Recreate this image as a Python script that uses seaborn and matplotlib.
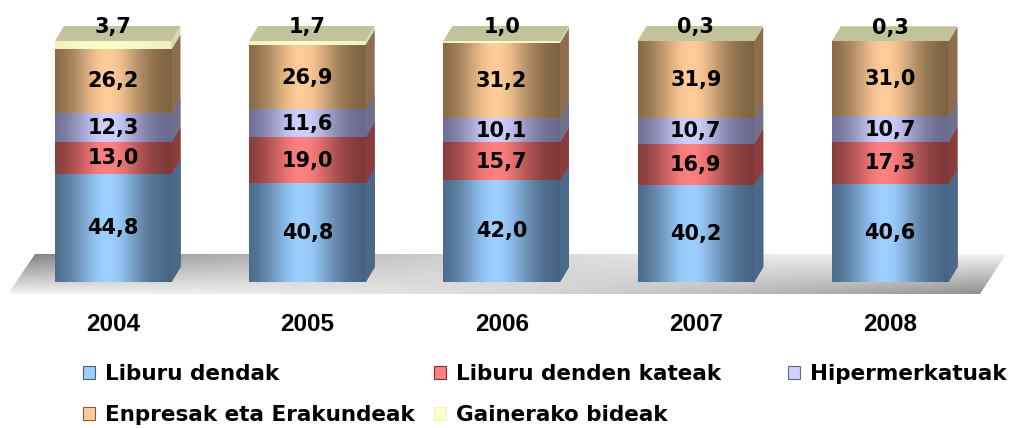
import numpy as np
import pandas as pd
import matplotlib
matplotlib.use("Agg")
import matplotlib.pyplot as plt
from matplotlib.patches import Polygon, Patch
from matplotlib.colors import to_rgb
import seaborn as sns

# data
years = ['2004', '2005', '2006', '2007', '2008']
categories = ['Liburu dendak', 'Liburu denden kateak', 'Hipermerkatuak',
              'Enpresak eta Erakundeak', 'Gainerako bideak']
liburu_dendak = [44.8, 40.8, 42.0, 40.2, 40.6]
kateak = [13.0, 19.0, 15.7, 16.9, 17.3]
hipermerkatuak = [12.3, 11.6, 10.1, 10.7, 10.7]
enpresak = [26.2, 26.9, 31.2, 31.9, 31.0]
gainerakoak = [3.7, 1.7, 1.0, 0.3, 0.3]

# colours: light centre, dark edge, side face
centre = ['#9dcfff', '#ff8080', '#d0d0ff', '#ffcc99', '#ffffcc']
edge = ['#45607e', '#7a3636', '#66668a', '#7a6040', '#f2f2be']
side = ['#4a6a8c', '#8c3c3c', '#70708c', '#8c6e4c', '#d8d8b0']
top_col = '#c2c29c'

rows = []
for cat, vals in zip(categories, [liburu_dendak, kateak, hipermerkatuak, enpresak, gainerakoak]):
    for y, v in zip(years, vals):
        rows.append({'Urtea': y, 'Bidea': cat, 'Ehunekoa': v})
df = pd.DataFrame(rows)
df['Metatua'] = df.groupby('Urtea')['Ehunekoa'].cumsum()

W, H = 1015, 428
fig = plt.figure(figsize=(W / 100, H / 100), dpi=100)

# background axes in pixel coords (floor)
bg = fig.add_axes([0, 0, 1, 1], zorder=0)
bg.set_xlim(0, W)
bg.set_ylim(H, 0)
bg.axis('off')
floor = Polygon([(35, 254), (1006, 254), (980, 294), (8, 294)], closed=True,
                facecolor='none', edgecolor='none')
bg.add_patch(floor)
gx = np.linspace(0, 1, 200)
gy = np.linspace(0, 1, 40)
X, Y = np.meshgrid(gx, gy)
val = 0.95 - 0.45 * (1 - X) ** 2 * (1 - Y) - 0.40 * X ** 2 * Y
img = bg.imshow(np.dstack([val, val, val]), extent=[8, 1006, 294, 254],
                aspect='auto', interpolation='bilinear', zorder=1)
img.set_clip_path(floor)

# main axes
px_unit = 2.41
x_unit = 194.25
ymax = 112
ax = fig.add_axes([16 / W, (H - 282) / H, 5 * x_unit / W, ymax * px_unit / H], zorder=1)
ax.patch.set_alpha(0)

dx = 9 / x_unit
dy = 15 / px_unit
t = np.linspace(0, 1, 120)
prof = np.exp(-((t - 0.45) / 0.3) ** 2)

z = 2
for i in reversed(range(len(categories))):
    sub = df[df['Bidea'] == categories[i]]
    n0 = len(ax.patches)
    sns.barplot(data=sub, x='Urtea', y='Metatua', order=years, color=centre[i],
                width=0.6, ax=ax, errorbar=None, saturation=1)
    c1 = np.array(to_rgb(centre[i]))
    c0 = np.array(to_rgb(edge[i]))
    grad = c0[None, :] + (c1 - c0)[None, :] * prof[:, None]
    for p in ax.patches[n0:]:
        x0, w, h = p.get_x(), p.get_width(), p.get_height()
        p.set_visible(False)
        ax.imshow(grad[None, :, :], extent=[x0, x0 + w, 0, h], aspect='auto',
                  interpolation='bilinear', zorder=z)
        ax.add_patch(Polygon([(x0 + w, 0), (x0 + w + dx, dy), (x0 + w + dx, h + dy), (x0 + w, h)],
                             closed=True, facecolor=side[i], edgecolor='none', zorder=z))
        if i == len(categories) - 1:
            ax.add_patch(Polygon([(x0, h), (x0 + w, h), (x0 + w + dx, h + dy), (x0 + dx, h + dy)],
                                 closed=True, facecolor=top_col, edgecolor='none', zorder=z))
    z += 1

ax.set_xlim(-0.5, 4.5)
ax.set_ylim(0, ymax)

# value labels
for i, cat in enumerate(categories):
    sub = df[df['Bidea'] == cat]
    for k, (v, c) in enumerate(zip(sub['Ehunekoa'], sub['Metatua'])):
        ypos = c - v / 2 if i < len(categories) - 1 else c + 0.9 * dy
        ax.text(k, ypos, f'{v:.1f}'.replace('.', ','), ha='center', va='center',
                fontsize=15, fontweight='bold', family='DejaVu Sans', zorder=20)

for s in ax.spines.values():
    s.set_visible(False)
ax.set_yticks([])
ax.set_xlabel('')
ax.set_ylabel('')
ax.tick_params(axis='x', length=0, pad=22)
for lab in ax.get_xticklabels():
    lab.set_fontfamily('Liberation Sans')
    lab.set_fontweight('bold')
    lab.set_fontsize(17.5)

# legend in three column groups
handles = [Patch(facecolor=centre[i], edgecolor=edge[i], linewidth=0.8) for i in range(5)]
groups = [([0, 3], 83), ([1, 4], 434), ([2], 788)]
for idx, xpx in groups:
    fig.legend([handles[j] for j in idx], [categories[j] for j in idx],
               loc='upper left', bbox_to_anchor=(xpx / W, 1 - 364 / H),
               frameon=False, borderpad=0, borderaxespad=0,
               handlelength=0.56, handleheight=0.56, handletextpad=0.45,
               labelspacing=0.98, prop={'family': 'DejaVu Sans', 'weight': 'bold', 'size': 15.5})

fig.savefig('out.png', dpi=100)
